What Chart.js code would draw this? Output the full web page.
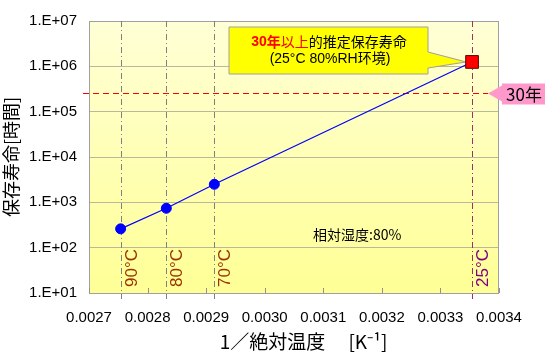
<!DOCTYPE html>
<html>
<head>
<meta charset="utf-8">
<script src="https://cdn.jsdelivr.net/npm/chart.js@4/dist/chart.umd.min.js"></script>
<style>
  html, body { margin: 0; padding: 0; background: #fff; }
  #wrap { width: 558px; height: 354px; }
</style>
</head>
<body>
<div id="wrap"><canvas id="chart"></canvas></div>
<script>
// data
const tempLabels = ["90°C", "80°C", "70°C", "25°C"];
const invTemp = [0.002754, 0.002832, 0.002914, 0.003354];   // 1/K
const lifeHours = [260, 740, 2500, 1250000];                // hours
const xTicks = [0.0027, 0.0028, 0.0029, 0.0030, 0.0031, 0.0032, 0.0033, 0.0034];
const yTicks = [1e1, 1e2, 1e3, 1e4, 1e5, 1e6, 1e7];
const thirtyYearHours = 262800;

const LATIN = "'Liberation Sans', Arial, sans-serif";
const CJK = "'Noto Sans CJK JP', 'Noto Sans CJK SC', sans-serif";
const MIXED = "'Liberation Sans', 'Noto Sans CJK JP', sans-serif";

Chart.defaults.color = "#000";
Chart.defaults.font.family = LATIN;

const decorPlugin = {
  id: "decor",
  beforeDraw(chart) {
    const { ctx, chartArea: a } = chart;
    const g = ctx.createLinearGradient(0, a.top, 0, a.bottom);
    g.addColorStop(0, "#ffffd6");
    g.addColorStop(1, "#ffff96");
    ctx.save();
    ctx.fillStyle = g;
    ctx.fillRect(a.left, a.top, a.right - a.left, a.bottom - a.top);
    ctx.restore();
  },
  beforeDatasetsDraw(chart) {
    const { ctx, chartArea: a, scales: { x, y } } = chart;
    ctx.save();
    // plot frame
    ctx.strokeStyle = "#a0a0a0";
    ctx.lineWidth = 1;
    ctx.strokeRect(a.left + 0.5, a.top + 0.5, a.right - a.left - 1, a.bottom - a.top);
    // inner tick marks on x axis
    ctx.strokeStyle = "#909090";
    xTicks.forEach(v => {
      const px = Math.round(x.getPixelForValue(v)) + 0.5;
      ctx.beginPath();
      ctx.moveTo(px, a.bottom);
      ctx.lineTo(px, a.bottom - 5);
      ctx.stroke();
    });
    // temperature guide lines
    invTemp.forEach((v, i) => {
      const px = Math.round(x.getPixelForValue(v)) + 0.5;
      const last = i === invTemp.length - 1;
      ctx.strokeStyle = last ? "#993366" : "#808080";
      ctx.setLineDash([6, 3, 1, 3]);
      ctx.beginPath();
      ctx.moveTo(px, a.top);
      ctx.lineTo(px, a.bottom + 6);
      ctx.stroke();
      ctx.setLineDash([]);
      ctx.save();
      ctx.translate(px + 11, a.bottom - 6);
      ctx.rotate(-Math.PI / 2);
      ctx.fillStyle = last ? "#800080" : "#993300";
      ctx.font = "17px " + LATIN;
      ctx.textAlign = "left";
      ctx.textBaseline = "middle";
      ctx.fillText(tempLabels[i], 0, 0);
      ctx.restore();
    });
    // 30 year line
    const py = Math.round(y.getPixelForValue(thirtyYearHours)) + 0.5;
    ctx.strokeStyle = "rgb(255, 0, 0)";
    ctx.lineWidth = 1;
    ctx.setLineDash([6, 4]);
    ctx.beginPath();
    ctx.moveTo(a.left - 6, py);
    ctx.lineTo(488, py);
    ctx.stroke();
    ctx.setLineDash([]);
    // humidity note
    ctx.fillStyle = "#000";
    ctx.font = "14px " + CJK;
    ctx.textAlign = "left";
    ctx.textBaseline = "middle";
    ctx.fillText("相対湿度:80%", 313, 235);

    // callout
    const tipX = x.getPixelForValue(invTemp[3]) - 6;
    const tipY = y.getPixelForValue(lifeHours[3]);
    ctx.beginPath();
    ctx.moveTo(229, 27);
    ctx.lineTo(428, 27);
    ctx.lineTo(428, 52);
    ctx.lineTo(tipX, tipY);
    ctx.lineTo(428, 68);
    ctx.lineTo(428, 74);
    ctx.lineTo(229, 74);
    ctx.closePath();
    ctx.fillStyle = "#ffff00";
    ctx.fill();
    ctx.strokeStyle = "#a0a0a0";
    ctx.stroke();

    ctx.textBaseline = "middle";
    ctx.textAlign = "left";
    const p1 = "30", p3 = "的推定保存寿命";
    ctx.font = "bold 14px " + LATIN;
    const w1 = ctx.measureText(p1).width;
    ctx.font = "bold 14px " + CJK;
    const w2a = ctx.measureText("年").width;
    ctx.font = "14px " + CJK;
    const w2 = ctx.measureText("以上").width;
    const w3 = ctx.measureText(p3).width;
    let sx = 329 - (w1 + w2a + w2 + w3) / 2;
    ctx.fillStyle = "#ff0000";
    ctx.font = "bold 14px " + LATIN;
    ctx.fillText(p1, sx, 42);
    sx += w1;
    ctx.font = "bold 14px " + CJK;
    ctx.fillText("年", sx, 42);
    sx += w2a;
    ctx.font = "14px " + CJK;
    ctx.fillText("以上", sx, 42);
    sx += w2;
    ctx.fillStyle = "#000";
    ctx.fillText(p3, sx, 42);
    ctx.textAlign = "center";
    ctx.font = "14px " + MIXED;
    ctx.fillText("(25°C 80%RH环境)", 330, 59);

    // 30 year tag
    ctx.fillStyle = "#ff99cc";
    ctx.beginPath();
    ctx.moveTo(488, py);
    ctx.lineTo(502, py - 8);
    ctx.lineTo(502, py - 10);
    ctx.lineTo(545, py - 10);
    ctx.lineTo(545, py + 11);
    ctx.lineTo(502, py + 11);
    ctx.lineTo(502, py + 8);
    ctx.closePath();
    ctx.fill();
    ctx.fillStyle = "#000";
    ctx.font = "17px " + CJK;
    ctx.textAlign = "center";
    ctx.fillText("30年", 524, py + 1);
    ctx.restore();
  }
};

new Chart(document.getElementById("chart"), {
  type: "scatter",
  data: {
    datasets: [{
      data: invTemp.map((v, i) => ({ x: v, y: lifeHours[i] })),
      showLine: true,
      borderColor: "#0000ff",
      borderWidth: 1.2,
      pointStyle: ["circle", "circle", "circle", "rect"],
      pointRadius: [5, 5, 5, 9],
      pointBackgroundColor: ["#0000ff", "#0000ff", "#0000ff", "#ff0000"],
      pointBorderColor: ["#0000ff", "#0000ff", "#0000ff", "#600000"],
      pointBorderWidth: [1, 1, 1, 1]
    }]
  },
  options: {
    responsive: true,
    maintainAspectRatio: false,
    animation: false,
    layout: { autoPadding: false, padding: { top: 18, right: 59, left: 0, bottom: 0 } },
    plugins: { legend: { display: false }, tooltip: { enabled: false } },
    scales: {
      x: {
        type: "linear",
        min: 0.0027,
        max: 0.0034,
        afterBuildTicks: s => { s.ticks = xTicks.map(v => ({ value: v })); },
        afterFit: s => { s.height = 61; },
        grid: { display: true, drawOnChartArea: false, drawTicks: false },
        border: { display: false },
        ticks: {
          font: { size: 15, family: LATIN },
          padding: 16,
          maxRotation: 0,
          callback: v => Number(v).toFixed(4)
        },
        title: {
          display: true,
          text: "　1／絶対温度　 [K⁻¹]",
          font: { size: 19, family: CJK },
          padding: { top: 0, bottom: 1 }
        }
      },
      y: {
        type: "logarithmic",
        min: 10,
        max: 1e7,
        afterBuildTicks: s => { s.ticks = yTicks.map(v => ({ value: v })); },
        afterFit: s => { s.width = 89; },
        grid: { color: "#b8b89a", drawTicks: false },
        border: { display: false },
        ticks: {
          font: { size: 15, family: LATIN },
          padding: 12,
          callback: v => "1.E+" + String(Math.round(Math.log10(v))).padStart(2, "0")
        },
        title: {
          display: true,
          text: "保存寿命[時間]",
          font: { size: 18, family: CJK },
          padding: { top: 0, bottom: 0 }
        }
      }
    }
  },
  plugins: [decorPlugin]
});
</script>
</body>
</html>
